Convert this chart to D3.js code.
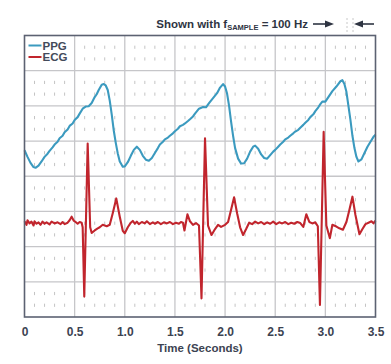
<!DOCTYPE html>
<html>
<head>
<meta charset="utf-8">
<script src="https://cdn.jsdelivr.net/npm/d3@7"></script>
<style>
  body { margin: 0; background: #fff; }
  text { font-family: "Liberation Sans", Arial, sans-serif; font-weight: bold; }
</style>
</head>
<body>
<div id="chart"></div>
<script>
// time in seconds, value in grid rows (8 rows, no y labels)
const xTicks = [0, 0.5, 1.0, 1.5, 2.0, 2.5, 3.0, 3.5];
const rowLines = [1, 2, 3, 4, 5, 6, 7];
const seriesNames = ["PPG", "ECG"];
const seriesColors = ["#3b9abf", "#c1252d"];

const ppgPoints = [
  [0.00, 4.74], [0.03, 4.55], [0.06, 4.38], [0.09, 4.26], [0.11, 4.24], [0.14, 4.30],
  [0.17, 4.42], [0.20, 4.55], [0.23, 4.64], [0.25, 4.72], [0.28, 4.82], [0.30, 4.90],
  [0.33, 4.98], [0.35, 5.08], [0.38, 5.15], [0.40, 5.25], [0.43, 5.33], [0.45, 5.43],
  [0.48, 5.50], [0.50, 5.60], [0.53, 5.68], [0.55, 5.78], [0.58, 5.92], [0.61, 5.98],
  [0.64, 5.99], [0.67, 6.08], [0.70, 6.25], [0.72, 6.33], [0.74, 6.45], [0.77, 6.60],
  [0.79, 6.62], [0.81, 6.58], [0.83, 6.45], [0.85, 6.15], [0.87, 5.75], [0.89, 5.30],
  [0.91, 4.95], [0.93, 4.65], [0.95, 4.42], [0.98, 4.27], [1.00, 4.28], [1.03, 4.40],
  [1.06, 4.58], [1.09, 4.75], [1.12, 4.84], [1.15, 4.75], [1.18, 4.58], [1.21, 4.47],
  [1.24, 4.44], [1.27, 4.52], [1.30, 4.66], [1.33, 4.80], [1.35, 4.90], [1.38, 4.98],
  [1.40, 5.05], [1.43, 5.10], [1.45, 5.15], [1.48, 5.22], [1.50, 5.28], [1.53, 5.35],
  [1.55, 5.42], [1.58, 5.46], [1.60, 5.50], [1.63, 5.57], [1.65, 5.62], [1.68, 5.70],
  [1.70, 5.78], [1.74, 5.92], [1.78, 5.97], [1.81, 5.96], [1.84, 6.08], [1.88, 6.22],
  [1.92, 6.36], [1.95, 6.52], [1.98, 6.62], [2.00, 6.55], [2.02, 6.35], [2.04, 6.00],
  [2.06, 5.55], [2.08, 5.15], [2.10, 4.80], [2.13, 4.50], [2.16, 4.36], [2.19, 4.37],
  [2.22, 4.50], [2.25, 4.70], [2.28, 4.84], [2.30, 4.87], [2.33, 4.78], [2.36, 4.62],
  [2.39, 4.52], [2.42, 4.50], [2.45, 4.60], [2.48, 4.70], [2.50, 4.75], [2.53, 4.84],
  [2.55, 4.90], [2.58, 4.98], [2.60, 5.05], [2.63, 5.10], [2.65, 5.15], [2.68, 5.22],
  [2.70, 5.27], [2.73, 5.32], [2.75, 5.38], [2.78, 5.46], [2.80, 5.52], [2.83, 5.60],
  [2.85, 5.68], [2.88, 5.76], [2.90, 5.85], [2.93, 5.96], [2.95, 6.05], [2.97, 6.12],
  [3.00, 6.12], [3.03, 6.25], [3.07, 6.42], [3.11, 6.55], [3.15, 6.70], [3.17, 6.73],
  [3.19, 6.62], [3.21, 6.40], [3.23, 6.00], [3.25, 5.60], [3.27, 5.15], [3.29, 4.80],
  [3.31, 4.55], [3.33, 4.42], [3.36, 4.48], [3.39, 4.66], [3.42, 4.84], [3.45, 4.98],
  [3.48, 5.12], [3.50, 5.18]
];

const ecgPoints = [
  [0.00, 2.72], [0.02, 2.62], [0.03, 2.75], [0.05, 2.66], [0.07, 2.71], [0.09, 2.60],
  [0.10, 2.72], [0.12, 2.65], [0.14, 2.69], [0.16, 2.62], [0.18, 2.71], [0.20, 2.65],
  [0.22, 2.69], [0.25, 2.63], [0.27, 2.71], [0.30, 2.66], [0.33, 2.69], [0.36, 2.64],
  [0.38, 2.70], [0.40, 2.64], [0.43, 2.68], [0.45, 2.75], [0.47, 2.85], [0.49, 2.74],
  [0.51, 2.70], [0.53, 2.65], [0.55, 2.70], [0.57, 2.68], [0.58, 2.55], [0.596, 0.58],
  [0.63, 4.93], [0.655, 2.55], [0.67, 2.39], [0.70, 2.46], [0.73, 2.52], [0.75, 2.55],
  [0.78, 2.62], [0.82, 2.58], [0.85, 2.62], [0.88, 2.95], [0.915, 3.37], [0.95, 2.85],
  [0.98, 2.45], [1.00, 2.38], [1.03, 2.55], [1.06, 2.68], [1.08, 2.73], [1.10, 2.65],
  [1.12, 2.71], [1.14, 2.64], [1.17, 2.70], [1.20, 2.66], [1.22, 2.72], [1.25, 2.64],
  [1.28, 2.69], [1.30, 2.65], [1.33, 2.70], [1.36, 2.64], [1.39, 2.69], [1.42, 2.66],
  [1.45, 2.70], [1.48, 2.64], [1.51, 2.68], [1.54, 2.65], [1.56, 2.70], [1.58, 2.68],
  [1.595, 2.46], [1.625, 2.92], [1.65, 2.72], [1.68, 2.62], [1.71, 2.67], [1.74, 2.60],
  [1.765, 0.53], [1.80, 5.08], [1.83, 2.60], [1.865, 2.33], [1.90, 2.50], [1.93, 2.62],
  [1.96, 2.56], [2.00, 2.62], [2.03, 2.70], [2.06, 3.05], [2.09, 3.40], [2.12, 2.95],
  [2.15, 2.55], [2.18, 2.33], [2.21, 2.50], [2.24, 2.68], [2.27, 2.64], [2.30, 2.71],
  [2.33, 2.66], [2.36, 2.70], [2.39, 2.64], [2.42, 2.69], [2.45, 2.65], [2.48, 2.71],
  [2.51, 2.64], [2.54, 2.69], [2.57, 2.66], [2.60, 2.70], [2.63, 2.64], [2.66, 2.68],
  [2.69, 2.65], [2.72, 2.70], [2.75, 2.67], [2.78, 2.56], [2.81, 2.92], [2.84, 2.70],
  [2.87, 2.66], [2.90, 2.69], [2.925, 2.58], [2.946, 0.34], [2.983, 5.26], [3.01, 2.60],
  [3.045, 2.24], [3.07, 2.62], [3.11, 2.57], [3.14, 2.52], [3.175, 2.48], [3.21, 2.70],
  [3.24, 3.05], [3.27, 3.42], [3.30, 2.90], [3.34, 2.35], [3.37, 2.50], [3.40, 2.64],
  [3.43, 2.68], [3.46, 2.72], [3.48, 2.66], [3.50, 2.74]
];

const W = 391, H = 364;
const svg = d3.select("#chart").append("svg").attr("width", W).attr("height", H);

const x = d3.scaleLinear().domain([0, 3.5]).range([24.5, 375.5]);
const y = d3.scaleLinear().domain([0, 8]).range([317, 35.5]);
const rowH = y(0) - y(1);

// minor dotted grid (every 0.1 s, two short dashes per row)
const minorT = d3.range(1, 35).map((i) => i / 10).filter((t) => Math.round(t * 10) % 5 !== 0);
const dots = [];
minorT.forEach((t) => {
  d3.range(0, 8).forEach((r) => {
    if (r === 7 && t < 0.5) return; // legend cell
    [1 / 3, 2 / 3].forEach((f) => dots.push({ t, yc: y(r + 1) + f * rowH }));
  });
});
svg.append("g")
  .selectAll("line")
  .data(dots)
  .enter()
  .append("line")
  .attr("x1", (d) => x(d.t))
  .attr("x2", (d) => x(d.t))
  .attr("y1", (d) => d.yc - 1.6)
  .attr("y2", (d) => d.yc + 1.6)
  .attr("stroke", "#c4c4c4")
  .attr("stroke-width", 1);

// major grid
svg.append("g")
  .selectAll("line")
  .data(xTicks.slice(1, -1))
  .enter()
  .append("line")
  .attr("x1", (d) => x(d))
  .attr("x2", (d) => x(d))
  .attr("y1", y(8))
  .attr("y2", y(0))
  .attr("stroke", "#c6c6c9")
  .attr("stroke-width", 1.3);

svg.append("g")
  .selectAll("line")
  .data(rowLines)
  .enter()
  .append("line")
  .attr("x1", x(0))
  .attr("x2", x(3.5))
  .attr("y1", (d) => y(d))
  .attr("y2", (d) => y(d))
  .attr("stroke", "#c6c6c9")
  .attr("stroke-width", 1.3);

// traces
const line = d3.line().x((d) => x(d[0])).y((d) => y(d[1]));
svg.append("path")
  .datum(ppgPoints)
  .attr("fill", "none")
  .attr("stroke", seriesColors[0])
  .attr("stroke-width", 2.1)
  .attr("stroke-linejoin", "round")
  .attr("d", line);

svg.append("path")
  .datum(ecgPoints)
  .attr("fill", "none")
  .attr("stroke", seriesColors[1])
  .attr("stroke-width", 2.1)
  .attr("stroke-linejoin", "round")
  .attr("d", line);

// frame
svg.append("rect")
  .attr("x", x(0))
  .attr("y", y(8))
  .attr("width", x(3.5) - x(0))
  .attr("height", y(0) - y(8))
  .attr("fill", "none")
  .attr("stroke", "#5c6272")
  .attr("stroke-width", 1.6);

// legend
const legend = svg.append("g").attr("transform", `translate(${x(0)}, ${y(8)})`);
seriesNames.forEach((name, i) => {
  const ly = 10 + i * 11.5;
  legend.append("line")
    .attr("x1", 4).attr("x2", 17)
    .attr("y1", ly).attr("y2", ly)
    .attr("stroke", seriesColors[i])
    .attr("stroke-width", 2);
  legend.append("text")
    .attr("x", 18)
    .attr("y", ly + 4)
    .attr("font-size", "11.5px")
    .attr("fill", "#434a5a")
    .text(name);
});

// x axis
const xAxis = d3.axisBottom(x)
  .tickValues(xTicks)
  .tickSize(0)
  .tickPadding(10)
  .tickFormat((d) => (d === 0 ? "0" : d3.format(".1f")(d)));
const xAxisGroup = svg.append("g").attr("transform", `translate(0, ${y(0)})`).call(xAxis);
xAxisGroup.select(".domain").remove();
xAxisGroup.selectAll("text")
  .attr("font-size", "12px")
  .attr("font-family", "Liberation Sans, Arial, sans-serif")
  .attr("font-weight", "bold")
  .attr("fill", "#3c4352");

svg.append("text")
  .attr("x", (x(0) + x(3.5)) / 2)
  .attr("y", 352)
  .attr("text-anchor", "middle")
  .attr("font-size", "11.5px")
  .attr("fill", "#3c4352")
  .text("Time (Seconds)");

// header note
const note = svg.append("text")
  .attr("x", 308)
  .attr("y", 28)
  .attr("text-anchor", "end")
  .attr("font-size", "11.5px")
  .attr("fill", "#2e3442");
note.append("tspan").text("Shown with f");
note.append("tspan").attr("font-size", "7.5px").attr("dy", 2).text("SAMPLE");
note.append("tspan").attr("dy", -2).text(" = 100 Hz");

svg.append("line")
  .attr("x1", 313).attr("x2", 327).attr("y1", 24).attr("y2", 24)
  .attr("stroke", "#2e3442").attr("stroke-width", 1.6);
svg.append("path")
  .attr("d", "M325,20.5 L334,24 L325,27.5 Z")
  .attr("fill", "#2e3442");
svg.append("line")
  .attr("x1", 361).attr("x2", 374).attr("y1", 24).attr("y2", 24)
  .attr("stroke", "#2e3442").attr("stroke-width", 1.6);
svg.append("path")
  .attr("d", "M363,20.5 L354,24 L363,27.5 Z")
  .attr("fill", "#2e3442");
[347, 353].forEach((px) => {
  svg.append("line")
    .attr("x1", px).attr("x2", px).attr("y1", 18).attr("y2", 32)
    .attr("stroke", "#c8c8c8")
    .attr("stroke-width", 1)
    .attr("stroke-dasharray", "2,2");
});
</script>
</body>
</html>
